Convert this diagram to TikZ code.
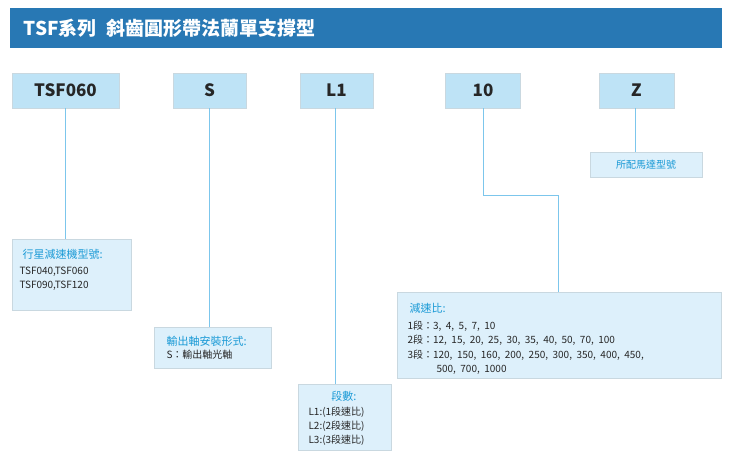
\documentclass[tikz,border=0pt]{standalone}
\usepackage{fontspec}
\setmainfont{Noto Sans CJK TC}
\definecolor{hdbar}{HTML}{2878B4}
\definecolor{topfill}{HTML}{BEE3F6}
\definecolor{infofill}{HTML}{DDF0FB}
\definecolor{lbord}{HTML}{C9D8E0}
\definecolor{lline}{HTML}{7CC6EC}
\definecolor{hdblue}{HTML}{1A9AD6}
\begin{document}
\begin{tikzpicture}[x=1pt,y=-1pt,
  top/.style={draw=lbord,fill=topfill,line width=0.8pt,font=\fontsize{17}{17}\selectfont\bfseries,text=black!85},
  box/.style={draw=lbord,fill=infofill,line width=0.8pt},
  ln/.style={draw=lline,line width=1pt},
  hd/.style={text=hdblue,font=\fontsize{11}{13}\selectfont},
  bd/.style={text=black!85,font=\fontsize{10}{14.5}\selectfont}]
\path[use as bounding box] (0,0) rectangle (735,456);
\fill[hdbar] (10,8) rectangle (722,48);
\node[anchor=west,text=white,font=\fontsize{19}{19}\selectfont\bfseries] (title) at (20,28) {TSF系列\enspace 斜齒圓形帶法蘭單支撐型};
% top boxes
\node[top,minimum width=107pt,minimum height=35pt] (t1) at (65.5,90.5) {TSF060};
\node[top,minimum width=73pt,minimum height=35pt] (t2) at (209.5,90.5) {S};
\node[top,minimum width=73pt,minimum height=35pt] (t3) at (336.5,90.5) {L1};
\node[top,minimum width=75pt,minimum height=35pt] (t4) at (483,90.5) {10};
\node[top,minimum width=75pt,minimum height=35pt] (t5) at (636.5,90.5) {Z};
% info boxes
\draw[box] (12,239) rectangle (131,310);
\node[hd,anchor=west] (i1h) at (19,254) {行星減速機型號:};
\node[bd,anchor=north west,align=left] (i1b) at (16,263) {TSF040,TSF060\\TSF090,TSF120};
\coordinate (i1) at (65,239);
\draw[box] (154,327) rectangle (271,368);
\node[hd,anchor=west] (i2h) at (163,341) {輸出軸安裝形式:};
\node[bd,anchor=west] (i2b) at (163,355) {S：輸出軸光軸};
\coordinate (i2) at (209,327);
\draw[box] (298,384) rectangle (391,450);
\node[hd] (i3h) at (344,396) {段數:};
\node[bd,anchor=north west,align=left,font=\fontsize{10}{14}\selectfont] (i3b) at (305,403) {L1:(1段速比)\\L2:(2段速比)\\L3:(3段速比)};
\coordinate (i3) at (335,384);
\draw[box] (397,292) rectangle (721,378);
\node[hd,anchor=west] (i4h) at (406,308) {減速比:};
\node[bd,anchor=north west,align=left] (i4b) at (404,317) {1段：3,\ \ 4,\ \ 5,\ \ 7,\ \ 10\\2段：12,\ \ 15,\ \ 20,\ \ 25,\ \ 30,\ \ 35,\ \ 40,\ \ 50,\ \ 70,\ \ 100\\3段：120,\ \ 150,\ \ 160,\ \ 200,\ \ 250,\ \ 300,\ \ 350,\ \ 400,\ \ 450,\\\hspace*{2.9em}500,\ \ 700,\ \ 1000};
\coordinate (i4) at (558,292);
\draw[box] (590,152) rectangle (702,177);
\node[hd,font=\fontsize{10}{12}\selectfont] (i5h) at (646,164.5) {所配馬達型號};
\coordinate (i5) at (635,152);
% connectors
\draw[ln] (t1.south -| i1) -- (i1);
\draw[ln] (t2.south -| i2) -- (i2);
\draw[ln] (t3.south -| i3) -- (i3);
\draw[ln] (t4.south) -- (483,195) -| (i4);
\draw[ln] (t5.south -| i5) -- (i5);
\end{tikzpicture}
\end{document}
